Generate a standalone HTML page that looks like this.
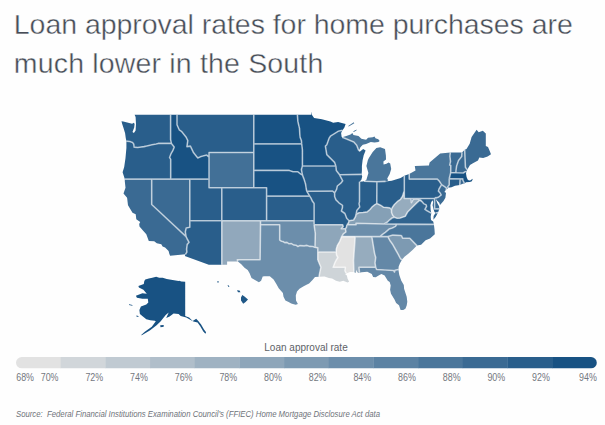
<!DOCTYPE html>
<html><head><meta charset="utf-8"><style>
html,body{margin:0;padding:0;background:#fefefe;}
body{width:605px;height:425px;overflow:hidden;position:relative;font-family:"Liberation Sans",sans-serif;}
svg{position:absolute;left:0;top:0;}
.lab{font-size:10px;fill:#74787e;}
</style></head><body>
<svg width="605" height="425" viewBox="0 0 605 425">
<text x="13.8" y="33.6" textLength="559" lengthAdjust="spacing" style="font-size:28.5px;fill:#474d57;stroke:#fefefe;stroke-width:0.4">Loan approval rates for home purchases are</text>
<text x="13.8" y="73.2" textLength="309.5" lengthAdjust="spacing" style="font-size:28.5px;fill:#474d57;stroke:#fefefe;stroke-width:0.4">much lower in the South</text>
<clipPath id="lc"><rect x="16" y="357" width="580.8" height="11.5" rx="5.75"/></clipPath>
<g><path fill="#295e8b" d="M126.4,141.1 125.8,138.2 125.1,133.3 123.6,128.3 122.2,124.1 121.5,121.3 123.3,121.6 127.2,122.4 132.1,123.8 133.9,122.7 134.6,124.1 134.2,127.6 132.5,131.9 133.9,132.9 135.6,130.5 136.0,124.1 135.6,117.1 134.6,114.8 170.6,114.8 170.6,139.5 171.4,143.4 158.2,143.4 156.2,144.0 152.0,144.8 147.9,145.7 144.0,146.6 137.6,147.5 134.1,147.1 133.8,144.3 132.5,142.4 129.9,141.5 126.4,141.1Z"/>
<path fill="#295e8b" d="M124.8,179.1 122.6,172.2 124.2,166.9 125.5,158.0 126.4,148.0 126.4,141.1 129.9,141.5 132.5,142.4 133.8,144.3 134.1,147.1 137.6,147.5 144.0,146.6 147.9,145.7 152.0,144.8 156.2,144.0 158.2,143.4 171.4,143.4 174.2,147.1 172.8,150.7 170.9,153.9 169.6,157.5 170.7,159.3 170.7,179.1 151.7,179.1 124.8,179.1Z"/>
<path fill="#3a6a93" d="M170.1,255.7 169.3,253.7 168.6,251.0 165.1,247.5 162.6,246.6 161.3,244.2 156.8,243.3 154.2,241.2 148.8,240.9 147.5,237.4 146.3,234.3 143.4,231.1 139.5,226.4 139.2,224.0 140.2,222.0 136.3,219.2 135.7,214.3 132.5,212.7 128.0,205.3 127.1,197.8 123.5,193.6 125.5,187.7 124.8,181.3 124.8,179.1 151.7,179.1 151.7,204.5 186.1,236.6 187.2,239.0 189.1,242.3 187.2,244.4 186.6,249.1 186.9,252.1 185.5,254.3 170.1,255.7Z"/>
<path fill="#3a6a93" d="M151.7,179.1 170.7,179.1 189.8,179.1 189.8,220.8 189.8,227.2 186.2,228.0 185.3,231.9 186.1,236.6 151.7,204.5 151.7,179.1Z"/>
<path fill="#185283" d="M170.6,114.8 177.0,114.8 177.0,124.7 179.2,129.8 181.8,131.7 186.2,137.3 187.8,140.6 186.9,146.6 190.4,146.1 193.6,152.8 197.8,158.0 201.0,156.6 206.7,155.1 209.0,157.2 209.0,179.1 189.8,179.1 170.7,179.1 170.7,159.3 169.6,157.5 170.9,153.9 172.8,150.7 174.2,147.1 171.4,143.4 170.6,139.5 170.6,114.8Z"/>
<path fill="#295e8b" d="M177.0,114.8 253.8,114.8 253.8,143.9 253.8,152.5 209.0,152.5 209.0,157.2 206.7,155.1 201.0,156.6 197.8,158.0 193.6,152.8 190.4,146.1 186.9,146.6 187.8,140.6 186.2,137.3 181.8,131.7 179.2,129.8 177.0,124.7 177.0,114.8Z"/>
<path fill="#427097" d="M209.0,157.2 209.0,152.5 253.8,152.5 253.8,170.4 253.8,187.7 221.8,187.7 209.0,187.7 209.0,179.1 209.0,157.2Z"/>
<path fill="#295e8b" d="M189.8,179.1 209.0,179.1 209.0,187.7 221.8,187.7 221.8,220.8 189.8,220.8 189.8,179.1Z"/>
<path fill="#295e8b" d="M221.8,187.7 253.8,187.7 266.6,187.7 266.6,196.1 266.6,220.8 260.5,220.8 221.8,220.8 221.8,187.7Z"/>
<path fill="#295e8b" d="M221.8,220.8 189.8,220.8 189.8,227.2 186.2,228.0 185.3,231.9 186.1,236.6 187.2,239.0 189.1,242.3 187.2,244.4 186.6,249.1 186.9,252.1 185.5,254.3 184.8,256.0 208.8,264.8 221.8,264.8 221.8,220.8Z"/>
<path fill="#91a8bc" d="M221.8,220.8 260.5,220.8 260.5,224.8 260.1,259.8 237.3,259.8 237.9,261.4 227.1,261.4 227.1,264.8 221.8,264.8 221.8,220.8Z"/>
<path fill="#185283" d="M253.8,114.8 297.4,114.8 297.9,121.6 299.5,128.4 299.8,134.0 300.1,137.3 301.4,140.6 301.7,143.9 253.8,143.9 253.8,114.8Z"/>
<path fill="#185283" d="M253.8,143.9 301.7,143.9 302.4,149.8 302.4,166.0 301.4,169.5 302.4,174.9 301.1,174.3 297.6,171.7 293.1,171.7 289.3,170.4 253.8,170.4 253.8,152.5 253.8,143.9Z"/>
<path fill="#185283" d="M253.8,170.4 289.3,170.4 293.1,171.7 297.6,171.7 301.1,174.3 302.4,174.9 304.0,179.1 305.6,184.3 306.2,188.5 306.7,191.2 309.7,196.1 266.6,196.1 266.6,187.7 253.8,187.7 253.8,170.4Z"/>
<path fill="#295e8b" d="M266.6,196.1 309.7,196.1 311.0,198.2 312.3,201.1 314.1,203.5 314.1,220.8 266.6,220.8 266.6,196.1Z"/>
<path fill="#6c8eab" d="M260.5,220.8 260.5,224.8 279.7,224.8 279.7,240.1 281.5,241.2 283.0,241.5 284.7,242.6 287.0,242.4 289.0,243.8 291.5,243.6 293.5,244.9 296.0,245.2 297.9,246.5 300.0,245.6 304.1,245.9 307.0,245.4 310.0,246.4 312.9,246.5 314.5,247.2 315.0,247.2 315.3,233.5 314.1,224.8 314.1,220.8 266.6,220.8 260.5,220.8Z"/>
<path fill="#6c8eab" d="M260.5,224.8 279.7,224.8 279.7,240.1 281.5,241.2 283.0,241.5 284.7,242.6 287.0,242.4 289.0,243.8 291.5,243.6 293.5,244.9 296.0,245.2 297.9,246.5 300.0,245.6 304.1,245.9 307.0,245.4 310.0,246.4 312.9,246.5 314.5,247.2 315.0,247.2 317.8,247.9 317.8,252.0 317.8,259.8 319.3,263.5 320.9,267.3 319.9,271.8 319.0,276.8 315.0,277.0 312.5,280.0 309.1,283.5 306.5,284.8 303.2,286.5 299.5,288.7 297.0,291.5 295.8,295.5 296.0,300.5 297.9,304.1 295.7,304.7 291.2,303.5 288.6,302.1 285.4,300.6 283.5,296.7 282.9,293.1 278.7,288.3 276.5,284.3 273.6,279.5 269.8,276.2 264.3,276.2 262.7,276.6 261.1,280.7 258.9,282.3 255.4,280.3 251.5,278.1 249.6,273.3 247.7,269.9 244.5,267.7 241.3,264.3 237.9,261.4 237.3,259.8 260.1,259.8 260.5,224.8Z"/>
<path fill="#185283" d="M297.4,114.8 311.3,114.8 311.3,111.5 312.0,115.1 314.1,117.9 321.9,119.3 330.4,121.4 333.2,122.8 338.1,122.1 345.6,124.1 344.4,127.4 342.5,130.2 338.1,131.3 330.4,136.2 329.0,138.4 326.8,144.7 325.4,146.1 326.8,154.6 334.6,162.4 335.9,166.0 302.4,166.0 302.4,149.8 301.7,143.9 301.4,140.6 300.1,137.3 299.8,134.0 299.5,128.4 297.9,121.6 297.4,114.8Z"/>
<path fill="#295e8b" d="M302.4,166.0 335.9,166.0 336.3,170.4 339.6,174.8 342.7,180.8 340.8,183.2 337.3,186.0 336.6,189.4 334.6,192.9 332.6,191.0 306.7,191.2 306.2,188.5 305.6,184.3 304.0,179.1 302.4,174.9 301.4,169.5 302.4,166.0Z"/>
<path fill="#295e8b" d="M306.7,191.2 332.6,191.0 334.6,192.9 334.7,196.7 336.0,199.9 338.9,202.8 342.5,205.4 342.4,207.8 341.4,211.0 344.9,213.5 346.7,218.3 349.1,220.8 348.3,223.2 346.9,224.8 346.5,227.2 345.4,228.8 341.3,228.8 343.2,226.4 342.7,224.8 314.1,224.8 314.1,220.8 314.1,203.5 312.3,201.1 311.0,198.2 309.7,196.1 306.7,191.2Z"/>
<path fill="#8ea6ba" d="M314.1,224.8 342.7,224.8 343.2,226.4 341.3,228.8 345.4,228.8 345.9,231.9 343.3,233.9 341.7,236.6 339.8,241.3 337.3,245.6 336.3,249.1 336.2,252.0 317.8,252.0 317.8,247.9 315.0,247.2 315.3,233.5 314.1,224.8Z"/>
<path fill="#ced4d8" d="M317.8,252.0 336.2,252.0 336.6,255.2 337.9,257.5 336.0,260.5 334.7,263.2 333.2,267.3 345.4,267.3 344.9,270.7 346.2,273.4 345.3,274.4 346.9,275.5 347.5,278.4 349.1,281.8 347.5,282.5 343.3,280.7 339.8,281.8 336.0,280.7 332.1,278.4 328.9,278.1 324.5,276.6 319.0,276.8 319.9,271.8 320.9,267.3 319.3,263.5 317.8,259.8 317.8,252.0Z"/>
<path fill="#295e8b" d="M342.5,130.2 341.1,133.1 341.6,136.8 342.1,137.3 347.2,139.2 353.8,142.0 356.7,145.3 358.5,150.0 360.0,151.4 363.2,149.1 365.6,150.5 363.7,155.2 362.6,160.3 361.9,166.0 361.9,171.0 361.6,174.4 339.6,174.8 336.3,170.4 335.9,166.0 334.6,162.4 326.8,154.6 325.4,146.1 326.8,144.7 329.0,138.4 330.4,136.2 338.1,131.3 342.5,130.2Z"/>
<path fill="#295e8b" d="M339.6,174.8 361.6,174.4 362.2,176.5 361.4,179.8 359.5,181.7 359.5,201.6 359.0,203.6 359.7,206.9 356.8,210.6 356.1,214.3 355.5,216.7 353.6,220.0 349.1,220.8 346.7,218.3 344.9,213.5 341.4,211.0 342.4,207.8 342.5,205.4 338.9,202.8 336.0,199.9 334.7,196.7 334.6,192.9 336.6,189.4 337.3,186.0 340.8,183.2 342.7,180.8 339.6,174.8Z"/>
<path fill="#295e8b" d="M359.5,181.7 362.5,181.4 364.0,181.2 376.9,181.7 376.8,203.6 375.0,204.6 372.5,206.6 370.0,209.5 367.2,211.9 363.0,212.5 359.0,212.8 356.1,214.3 356.8,210.6 359.7,206.9 359.0,203.6 359.5,201.6 359.5,181.7Z"/>
<path fill="#295e8b" d="M385.6,181.4 376.9,181.7 376.8,203.6 380.5,205.2 383.7,207.3 386.5,207.5 389.7,207.9 391.5,209.5 392.3,207.5 394.4,204.5 397.2,201.7 400.5,199.3 402.4,196.5 403.8,192.2 404.3,190.7 404.3,175.8 400.6,177.9 396.6,179.3 391.7,180.8 385.6,181.4Z"/>
<path fill="#4a769b" d="M364.0,181.2 364.9,181.0 366.4,179.8 368.4,172.9 366.4,166.0 367.9,160.0 368.9,158.0 372.7,151.9 376.4,148.1 380.2,147.2 385.0,149.1 385.9,155.4 386.0,159.5 383.4,161.5 383.6,164.6 386.5,163.8 388.5,162.6 390.2,163.5 391.2,168.9 389.7,173.9 387.2,178.4 388.2,180.6 385.6,181.4 376.9,181.7 364.0,181.2ZM342.1,137.3 346.3,135.9 350.5,134.5 352.4,133.1 353.4,135.0 358.5,135.9 361.4,138.7 366.1,139.7 368.0,137.8 372.7,137.3 374.5,136.4 375.5,138.2 378.3,139.2 379.7,141.1 378.3,142.0 374.5,142.5 370.8,142.0 366.1,143.9 362.8,144.8 360.4,147.2 359.0,150.6 360.0,151.4 358.5,150.0 356.7,145.3 353.8,142.0 347.2,139.2 342.1,137.3ZM353.2,131.2 356.7,129.5 356.4,130.6 353.8,132.0ZM348.2,126.0 353.8,122.2 354.3,123.2 348.7,126.5Z"/>
<path fill="#85a0b6" d="M391.5,209.5 389.7,207.9 386.5,207.5 383.7,207.3 380.5,205.2 376.8,203.6 375.0,204.6 372.5,206.6 370.0,209.5 367.2,211.9 363.0,212.5 359.0,212.8 356.1,214.3 355.5,216.7 353.6,220.0 349.1,220.8 348.3,223.2 346.9,224.8 356.1,224.8 356.0,223.3 384.1,224.0 387.5,222.0 389.7,219.8 392.0,218.0 394.5,217.3 392.8,215.5 391.6,212.8 391.5,209.5Z"/>
<path fill="#6c8eab" d="M384.1,224.0 356.0,223.3 356.1,224.8 346.9,224.8 346.5,227.2 345.4,228.8 345.9,231.9 343.3,233.9 341.7,236.6 355.2,236.6 371.8,236.6 380.0,236.6 382.1,234.7 385.3,232.3 389.1,229.1 392.3,228.0 395.5,226.4 396.9,224.1 384.1,224.0Z"/>
<path fill="#e2e2e2" d="M355.2,236.6 341.7,236.6 339.8,241.3 337.3,245.6 336.3,249.1 336.2,252.0 336.6,255.2 337.9,257.5 336.0,260.5 334.7,263.2 333.2,267.3 345.4,267.3 344.9,270.7 346.2,273.4 350.1,271.9 353.9,271.9 353.5,260.5 355.2,236.6Z"/>
<path fill="#96acbe" d="M371.8,236.6 355.2,236.6 353.5,260.5 353.9,271.9 355.8,272.9 356.5,269.7 357.1,271.8 358.1,272.9 359.5,272.7 359.0,268.0 359.0,267.3 375.7,267.3 375.0,262.8 375.7,257.5 374.5,253.1 371.8,236.6Z"/>
<path fill="#6488a7" d="M380.0,236.6 371.8,236.6 374.5,253.1 375.7,257.5 375.0,262.8 375.7,267.3 376.6,269.5 393.6,270.5 394.5,272.1 394.9,270.3 398.4,269.5 398.7,266.5 400.0,263.2 402.1,259.5 400.6,259.0 398.1,254.1 395.5,249.5 392.9,244.8 389.7,240.2 387.8,236.6 380.0,236.6Z"/>
<path fill="#6488a7" d="M398.4,269.5 399.3,275.1 401.3,280.7 403.8,285.1 404.1,288.7 406.7,296.7 407.3,301.7 406.7,305.6 405.4,308.8 403.2,309.9 400.6,309.9 399.0,305.3 396.1,303.1 394.5,299.6 391.0,293.8 390.1,289.8 390.7,285.4 389.7,282.1 387.8,280.7 384.6,275.5 381.4,274.0 379.5,275.1 375.7,277.3 373.1,277.0 371.8,274.0 367.3,271.8 361.6,272.3 359.5,272.7 359.0,268.0 359.0,267.3 375.7,267.3 376.6,269.5 393.6,270.5 394.5,272.1 394.9,270.3 398.4,269.5Z"/>
<path fill="#7d9ab2" d="M387.8,236.6 389.7,240.2 392.9,244.8 395.5,249.5 398.1,254.1 400.6,259.0 402.1,259.5 404.5,256.7 408.0,254.1 412.8,249.8 416.9,245.6 409.8,238.2 402.5,238.1 401.7,235.9 400.9,235.5 392.9,235.1 387.8,236.6Z"/>
<path fill="#4a769b" d="M396.9,224.1 395.5,226.4 392.3,228.0 389.1,229.1 385.3,232.3 382.1,234.7 380.0,236.6 387.8,236.6 392.9,235.1 400.9,235.5 401.7,235.9 402.5,238.1 409.8,238.2 416.9,245.6 421.1,244.8 425.6,240.2 430.0,238.6 434.8,234.3 434.5,229.5 433.9,224.4 396.9,224.1Z"/>
<path fill="#31648f" d="M396.9,224.1 384.1,224.0 387.5,222.0 389.7,219.8 392.0,218.0 394.5,217.3 397.0,218.3 400.1,218.1 405.2,216.3 407.6,212.0 412.3,207.3 417.0,202.6 419.8,200.2 422.2,201.8 423.6,203.6 426.2,204.9 426.5,206.5 424.9,209.4 427.5,211.0 431.3,213.1 430.7,216.7 431.0,220.0 433.2,221.6 433.9,224.4 396.9,224.1ZM438.0,212.4 435.8,216.7 433.4,219.8 433.6,215.9 435.5,213.1 438.0,212.4Z"/>
<path fill="#96acbe" d="M394.5,217.3 392.8,215.5 391.6,212.8 391.5,209.5 392.3,207.5 394.4,204.5 397.2,201.7 400.5,199.3 402.4,196.5 403.8,192.2 404.3,190.7 404.3,198.5 411.0,198.5 411.4,202.6 413.2,199.3 417.0,198.8 420.8,200.2 422.2,201.8 419.8,200.2 417.0,202.6 412.3,207.3 407.6,212.0 405.2,216.3 400.1,218.1 397.0,218.3 394.5,217.3Z"/>
<path fill="#295e8b" d="M411.0,198.5 434.6,198.5 434.6,208.9 439.3,208.9 438.0,212.4 435.5,213.1 434.5,211.9 433.6,209.4 432.6,205.3 433.2,202.0 432.6,200.3 431.3,202.0 430.4,205.3 430.7,210.2 431.3,213.1 427.5,211.0 424.9,209.4 426.5,206.5 426.2,204.9 423.6,203.6 422.2,201.8 420.8,200.2 417.0,198.8 413.2,199.3 411.4,202.6 411.0,198.5Z"/>
<path fill="#3a6a93" d="M439.3,208.9 434.6,208.9 434.6,198.5 435.8,197.6 437.0,197.8 436.1,199.9 437.4,203.2 439.1,206.3 439.3,208.9Z"/>
<path fill="#295e8b" d="M409.2,173.9 404.3,175.8 404.3,190.7 404.3,198.5 411.0,198.5 434.6,198.5 435.8,197.6 437.0,197.8 438.7,197.0 441.2,194.9 440.0,192.8 438.4,191.1 439.0,189.0 441.6,184.6 439.0,180.8 437.3,179.1 409.2,179.1 409.2,173.9Z"/>
<path fill="#3a6a93" d="M441.6,184.6 439.0,189.0 438.4,191.1 440.0,192.8 441.2,194.9 438.7,197.0 437.0,197.8 436.1,199.5 439.3,202.8 440.0,205.0 443.5,201.1 445.4,197.8 446.0,192.8 444.4,191.9 445.9,189.8 446.6,188.1 446.0,187.7 441.6,184.6Z"/>
<path fill="#4a769b" d="M409.2,173.9 415.5,170.4 414.8,166.1 428.9,165.4 429.6,162.6 440.2,153.4 450.3,152.4 449.9,156.2 450.5,161.5 449.7,165.1 450.8,165.4 450.7,172.7 449.2,178.7 449.2,185.1 447.8,186.8 448.3,187.8 447.3,189.0 445.9,189.8 446.6,188.1 446.0,187.7 441.6,184.6 439.0,180.8 437.3,179.1 409.2,179.1 409.2,173.9Z"/>
<path fill="#295e8b" d="M449.2,178.7 460.1,178.9 459.8,185.0 455.0,185.8 451.5,187.3 448.3,187.8 447.8,186.8 449.2,185.1 449.2,178.7Z"/>
<path fill="#3a6a93" d="M460.1,178.9 462.8,178.9 462.8,180.0 464.5,183.4 462.7,183.8 459.8,185.0 460.1,178.9Z"/>
<path fill="#185283" d="M450.7,172.7 455.9,172.8 463.3,173.0 465.2,171.7 466.4,171.5 466.0,173.5 466.6,177.0 467.6,179.5 469.0,180.6 470.8,180.3 472.3,178.8 472.6,179.8 471.5,181.5 469.5,182.0 466.0,182.2 464.5,183.4 462.8,180.0 462.8,178.9 460.1,178.9 449.2,178.7 450.7,172.7Z"/>
<path fill="#3a6a93" d="M462.0,152.4 450.3,152.4 449.9,156.2 450.5,161.5 449.7,165.1 450.8,165.4 450.7,172.7 455.9,172.8 456.0,170.4 456.6,166.0 458.5,160.6 461.7,156.6 462.0,152.4Z"/>
<path fill="#3a6a93" d="M455.9,172.8 456.0,170.4 456.6,166.0 458.5,160.6 461.7,156.6 462.0,152.4 464.7,149.8 465.4,167.3 467.2,169.7 466.4,171.5 465.2,171.7 463.3,173.0 455.9,172.8Z"/>
<path fill="#3a6a93" d="M467.2,169.7 470.0,165.1 472.9,163.3 478.0,160.6 479.3,157.5 483.2,158.0 487.6,156.6 491.0,154.2 489.6,150.7 488.0,147.1 485.8,146.1 485.8,133.4 482.8,130.7 478.7,132.2 476.6,129.7 471.6,136.9 469.7,143.8 466.5,148.9 464.7,149.8 465.4,167.3 467.2,169.7Z"/>
<path fill="#185283" d="M145.3,279.4 148.8,278.4 152.3,277.7 156.2,276.7 159.2,277.7 162.7,277.7 166.7,279.1 172.6,279.9 178.6,280.9 179.2,280.7 181.4,281.4 185.2,281.8 185.2,316.0 187.0,316.7 189.1,317.4 192.7,321.0 196.2,318.8 198.3,321.0 201.1,324.5 204.0,329.4 206.1,332.2 205.4,333.7 203.3,331.5 200.4,326.6 197.6,322.4 193.4,321.6 189.8,319.5 186.3,317.4 180.7,316.0 178.6,313.9 173.6,313.4 169.6,316.4 166.2,317.9 168.7,312.4 165.7,314.9 160.5,321.5 156.3,325.6 149.8,330.5 142.2,335.0 140.9,335.2 144.8,331.7 151.8,326.8 155.8,321.3 154.8,320.8 150.3,320.3 146.3,319.3 142.9,316.4 139.9,313.9 139.4,309.9 140.9,306.4 146.3,304.5 148.3,302.4 147.8,298.8 142.4,298.8 136.9,297.8 135.9,295.8 142.4,293.3 146.8,293.8 143.4,289.8 138.9,287.4 138.4,285.9 143.8,283.9 144.3,280.9ZM129.0,304.2 132.4,305.0 132.4,305.7 129.0,305.0ZM136.4,315.4 138.4,315.9 138.4,316.9 136.4,316.4ZM160.2,325.3 163.7,325.0 163.7,326.8 160.5,327.2Z"/>
<path fill="#205887" d="M217.3,281.2 218.7,281.2 218.7,282.6 217.3,282.6ZM227.5,285.0 228.5,285.3 229.5,287.0 228.5,287.0ZM237.0,290.2 239.5,290.6 240.5,292.2 238.0,292.2ZM242.3,295.0 244.5,296.6 248.0,299.6 245.6,302.0 243.2,303.8 241.0,300.6 241.0,297.6Z"/></g>
<g fill="none" stroke="#fff" stroke-width="1.6" stroke-linejoin="round" opacity="0.6"><path d="M170.6,114.8 170.6,139.5 171.4,143.4M126.4,141.1 129.9,141.5 132.5,142.4 133.8,144.3 134.1,147.1 137.6,147.5 144.0,146.6 147.9,145.7 152.0,144.8 156.2,144.0 158.2,143.4 171.4,143.4M171.4,143.4 174.2,147.1 172.8,150.7 170.9,153.9 169.6,157.5 170.7,159.3 170.7,179.1M151.7,179.1 170.7,179.1M124.8,179.1 151.7,179.1M151.7,179.1 151.7,204.5 186.1,236.6M186.1,236.6 187.2,239.0 189.1,242.3 187.2,244.4 186.6,249.1 186.9,252.1 185.5,254.3M170.7,179.1 189.8,179.1M189.8,179.1 189.8,220.8M189.8,220.8 189.8,227.2 186.2,228.0 185.3,231.9 186.1,236.6M209.0,157.2 206.7,155.1 201.0,156.6 197.8,158.0 193.6,152.8 190.4,146.1 186.9,146.6 187.8,140.6 186.2,137.3 181.8,131.7 179.2,129.8 177.0,124.7 177.0,114.8M209.0,179.1 209.0,157.2M189.8,179.1 209.0,179.1M253.8,143.9 253.8,114.8M253.8,152.5 253.8,143.9M209.0,157.2 209.0,152.5 253.8,152.5M253.8,170.4 253.8,152.5M253.8,187.7 253.8,170.4M221.8,187.7 253.8,187.7M209.0,179.1 209.0,187.7 221.8,187.7M221.8,187.7 221.8,220.8M221.8,220.8 189.8,220.8M253.8,187.7 266.6,187.7 266.6,196.1M266.6,196.1 266.6,220.8M266.6,220.8 260.5,220.8M260.5,220.8 221.8,220.8M221.8,220.8 221.8,264.8M260.5,220.8 260.5,224.8M260.5,224.8 260.1,259.8 237.3,259.8 237.9,261.4M301.7,143.9 301.4,140.6 300.1,137.3 299.8,134.0 299.5,128.4 297.9,121.6 297.4,114.8M253.8,143.9 301.7,143.9M302.4,166.0 302.4,149.8 301.7,143.9M302.4,174.9 301.4,169.5 302.4,166.0M253.8,170.4 289.3,170.4 293.1,171.7 297.6,171.7 301.1,174.3 302.4,174.9M302.4,174.9 304.0,179.1 305.6,184.3 306.2,188.5 306.7,191.2M306.7,191.2 309.7,196.1M309.7,196.1 266.6,196.1M309.7,196.1 311.0,198.2 312.3,201.1 314.1,203.5 314.1,220.8M314.1,220.8 266.6,220.8M260.5,224.8 279.7,224.8 279.7,240.1 281.5,241.2 283.0,241.5 284.7,242.6 287.0,242.4 289.0,243.8 291.5,243.6 293.5,244.9 296.0,245.2 297.9,246.5 300.0,245.6 304.1,245.9 307.0,245.4 310.0,246.4 312.9,246.5 314.5,247.2 315.0,247.2M315.0,247.2 315.3,233.5 314.1,224.8M314.1,224.8 314.1,220.8M315.0,247.2 317.8,247.9 317.8,252.0M317.8,252.0 317.8,259.8 319.3,263.5 320.9,267.3 319.9,271.8 319.0,276.8M342.5,130.2 338.1,131.3 330.4,136.2 329.0,138.4 326.8,144.7 325.4,146.1 326.8,154.6 334.6,162.4 335.9,166.0M302.4,166.0 335.9,166.0M335.9,166.0 336.3,170.4 339.6,174.8M339.6,174.8 342.7,180.8 340.8,183.2 337.3,186.0 336.6,189.4 334.6,192.9M306.7,191.2 332.6,191.0 334.6,192.9M334.6,192.9 334.7,196.7 336.0,199.9 338.9,202.8 342.5,205.4 342.4,207.8 341.4,211.0 344.9,213.5 346.7,218.3 349.1,220.8M349.1,220.8 348.3,223.2 346.9,224.8M346.9,224.8 346.5,227.2 345.4,228.8M314.1,224.8 342.7,224.8 343.2,226.4 341.3,228.8 345.4,228.8M345.4,228.8 345.9,231.9 343.3,233.9 341.7,236.6M341.7,236.6 339.8,241.3 337.3,245.6 336.3,249.1 336.2,252.0M336.2,252.0 317.8,252.0M336.2,252.0 336.6,255.2 337.9,257.5 336.0,260.5 334.7,263.2 333.2,267.3 345.4,267.3 344.9,270.7 346.2,273.4M342.1,137.3 347.2,139.2 353.8,142.0 356.7,145.3 358.5,150.0 360.0,151.4M361.6,174.4 339.6,174.8M359.5,181.7 359.5,201.6 359.0,203.6 359.7,206.9 356.8,210.6 356.1,214.3M356.1,214.3 355.5,216.7 353.6,220.0 349.1,220.8M376.9,181.7 364.0,181.2M376.9,181.7 376.8,203.6M376.8,203.6 375.0,204.6 372.5,206.6 370.0,209.5 367.2,211.9 363.0,212.5 359.0,212.8 356.1,214.3M385.6,181.4 376.9,181.7M391.5,209.5 389.7,207.9 386.5,207.5 383.7,207.3 380.5,205.2 376.8,203.6M404.3,190.7 403.8,192.2 402.4,196.5 400.5,199.3 397.2,201.7 394.4,204.5 392.3,207.5 391.5,209.5M404.3,175.8 404.3,190.7M384.1,224.0 356.0,223.3 356.1,224.8 346.9,224.8M384.1,224.0 387.5,222.0 389.7,219.8 392.0,218.0 394.5,217.3M391.5,209.5 391.6,212.8 392.8,215.5 394.5,217.3M341.7,236.6 355.2,236.6M355.2,236.6 371.8,236.6M371.8,236.6 380.0,236.6M380.0,236.6 382.1,234.7 385.3,232.3 389.1,229.1 392.3,228.0 395.5,226.4 396.9,224.1M396.9,224.1 384.1,224.0M355.2,236.6 353.5,260.5 353.9,271.9M359.5,272.7 359.0,268.0 359.0,267.3 375.7,267.3M371.8,236.6 374.5,253.1 375.7,257.5 375.0,262.8 375.7,267.3M375.7,267.3 376.6,269.5 393.6,270.5 394.5,272.1 394.9,270.3 398.4,269.5M387.8,236.6 389.7,240.2 392.9,244.8 395.5,249.5 398.1,254.1 400.6,259.0 402.1,259.5M380.0,236.6 387.8,236.6M387.8,236.6 392.9,235.1 400.9,235.5 401.7,235.9 402.5,238.1 409.8,238.2 416.9,245.6M396.9,224.1 433.9,224.4M422.2,201.8 419.8,200.2 417.0,202.6 412.3,207.3 407.6,212.0 405.2,216.3 400.1,218.1 397.0,218.3 394.5,217.3M422.2,201.8 423.6,203.6 426.2,204.9 426.5,206.5 424.9,209.4 427.5,211.0 431.3,213.1M435.5,213.1 438.0,212.4M404.3,190.7 404.3,198.5 411.0,198.5M411.0,198.5 411.4,202.6 413.2,199.3 417.0,198.8 420.8,200.2 422.2,201.8M411.0,198.5 434.6,198.5M434.6,198.5 434.6,208.9 439.3,208.9M434.6,198.5 435.8,197.6 437.0,197.8M437.0,197.8 438.7,197.0 441.2,194.9 440.0,192.8 438.4,191.1 439.0,189.0 441.6,184.6M441.6,184.6 439.0,180.8 437.3,179.1 409.2,179.1 409.2,173.9M441.6,184.6 446.0,187.7 446.6,188.1 445.9,189.8M450.3,152.4 449.9,156.2 450.5,161.5 449.7,165.1 450.8,165.4 450.7,172.7M450.7,172.7 449.2,178.7M449.2,178.7 449.2,185.1 447.8,186.8 448.3,187.8M449.2,178.7 460.1,178.9M460.1,178.9 459.8,185.0M460.1,178.9 462.8,178.9 462.8,180.0 464.5,183.4M450.7,172.7 455.9,172.8M455.9,172.8 463.3,173.0 465.2,171.7 466.4,171.5M455.9,172.8 456.0,170.4 456.6,166.0 458.5,160.6 461.7,156.6 462.0,152.4M467.2,169.7 465.4,167.3 464.7,149.8"/></g>
<g clip-path="url(#lc)">
<rect x="16.00" y="357" width="44.98" height="11.5" fill="#e2e2e2"/>
<rect x="60.68" y="357" width="44.98" height="11.5" fill="#d1d6da"/>
<rect x="105.35" y="357" width="44.98" height="11.5" fill="#c0cad2"/>
<rect x="150.03" y="357" width="44.98" height="11.5" fill="#b0beca"/>
<rect x="194.71" y="357" width="44.98" height="11.5" fill="#9fb2c2"/>
<rect x="239.38" y="357" width="44.98" height="11.5" fill="#8ea6ba"/>
<rect x="284.06" y="357" width="44.98" height="11.5" fill="#7d9ab2"/>
<rect x="328.74" y="357" width="44.98" height="11.5" fill="#6c8eab"/>
<rect x="373.42" y="357" width="44.98" height="11.5" fill="#5b82a3"/>
<rect x="418.09" y="357" width="44.98" height="11.5" fill="#4a769b"/>
<rect x="462.77" y="357" width="44.98" height="11.5" fill="#3a6a93"/>
<rect x="507.45" y="357" width="44.98" height="11.5" fill="#295e8b"/>
<rect x="552.12" y="357" width="44.98" height="11.5" fill="#185283"/>
</g>
<text x="306" y="351.3" text-anchor="middle" style="font-size:10px;fill:#5d6167">Loan approval rate</text>
<text class="lab" x="16.2" y="380.9" textLength="17.8" lengthAdjust="spacingAndGlyphs">68%</text>
<text class="lab" x="58.5" y="380.9" text-anchor="end" textLength="17.8" lengthAdjust="spacingAndGlyphs">70%</text>
<text class="lab" x="103.2" y="380.9" text-anchor="end" textLength="17.8" lengthAdjust="spacingAndGlyphs">72%</text>
<text class="lab" x="147.8" y="380.9" text-anchor="end" textLength="17.8" lengthAdjust="spacingAndGlyphs">74%</text>
<text class="lab" x="192.5" y="380.9" text-anchor="end" textLength="17.8" lengthAdjust="spacingAndGlyphs">76%</text>
<text class="lab" x="237.2" y="380.9" text-anchor="end" textLength="17.8" lengthAdjust="spacingAndGlyphs">78%</text>
<text class="lab" x="281.9" y="380.9" text-anchor="end" textLength="17.8" lengthAdjust="spacingAndGlyphs">80%</text>
<text class="lab" x="326.5" y="380.9" text-anchor="end" textLength="17.8" lengthAdjust="spacingAndGlyphs">82%</text>
<text class="lab" x="371.2" y="380.9" text-anchor="end" textLength="17.8" lengthAdjust="spacingAndGlyphs">84%</text>
<text class="lab" x="415.9" y="380.9" text-anchor="end" textLength="17.8" lengthAdjust="spacingAndGlyphs">86%</text>
<text class="lab" x="460.6" y="380.9" text-anchor="end" textLength="17.8" lengthAdjust="spacingAndGlyphs">88%</text>
<text class="lab" x="505.2" y="380.9" text-anchor="end" textLength="17.8" lengthAdjust="spacingAndGlyphs">90%</text>
<text class="lab" x="549.9" y="380.9" text-anchor="end" textLength="17.8" lengthAdjust="spacingAndGlyphs">92%</text>
<text class="lab" x="596.8" y="380.9" text-anchor="end" textLength="17.8" lengthAdjust="spacingAndGlyphs">94%</text>
<text x="16.0" y="416.5" textLength="364" lengthAdjust="spacingAndGlyphs" style="font-size:8.7px;font-style:italic;fill:#6f737a">Source:&#160; Federal Financial Institutions Examination Council&#8217;s (FFIEC) Home Mortgage Disclosure Act data</text>
</svg>
</body></html>
